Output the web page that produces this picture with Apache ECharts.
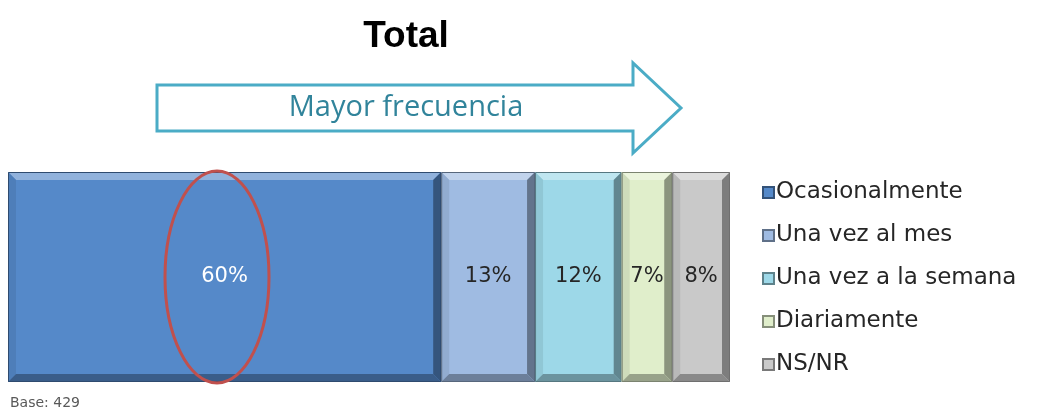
<!DOCTYPE html>
<html>
<head>
<meta charset="utf-8">
<script src="https://cdn.jsdelivr.net/npm/echarts@6/dist/echarts.min.js"></script>
<style>
  html, body { margin: 0; padding: 0; background: #ffffff; }
  #chart { width: 1056px; height: 416px; }
</style>
</head>
<body>
<div id="chart"></div>
<script>
// Frequency categories, from lowest to highest frequency
const categories = ['Ocasionalmente', 'Una vez al mes', 'Una vez a la semana', 'Diariamente', 'NS/NR'];
// Share of respondents (%)
const values = [60, 13, 12, 7, 8];
const colors = ['#5589c9', '#9fbbe2', '#9dd8e8', '#e0eecb', '#c9c9c9'];
const labelColors = ['#ffffff', '#262626', '#262626', '#262626', '#262626'];
const rowLabels = ['Total'];

function shade(hex, f) {
  const n = parseInt(hex.slice(1), 16);
  let r = (n >> 16) & 255, g = (n >> 8) & 255, b = n & 255;
  if (f >= 0) { r += (255 - r) * f; g += (255 - g) * f; b += (255 - b) * f; }
  else { r *= 1 + f; g *= 1 + f; b *= 1 + f; }
  return 'rgb(' + Math.round(r) + ',' + Math.round(g) + ',' + Math.round(b) + ')';
}

// Beveled segment of a 100% stacked bar
function bevelSegment(idx) {
  return function (params, api) {
    const start = api.value(0), len = api.value(1);
    const pA = api.coord([start, 0]);
    const pB = api.coord([start + len, 0]);
    const h = api.size([0, 1])[1];
    const x0 = pA[0], x1 = pB[0];
    const y0 = pA[1] - h / 2, y1 = pA[1] + h / 2;
    const b = 8;
    const base = colors[idx];
    return {
      type: 'group',
      children: [
        { type: 'rect', shape: { x: x0, y: y0, width: x1 - x0, height: y1 - y0 }, style: { fill: base } },
        { type: 'polygon', shape: { points: [[x0, y0], [x1, y0], [x1 - b, y0 + b], [x0 + b, y0 + b]] }, style: { fill: shade(base, 0.35) } },
        { type: 'polygon', shape: { points: [[x0, y0], [x0 + b, y0 + b], [x0 + b, y1 - b], [x0, y1]] }, style: { fill: shade(base, -0.08) } },
        { type: 'polygon', shape: { points: [[x1, y0], [x1 - b, y0 + b], [x1 - b, y1 - b], [x1, y1]] }, style: { fill: shade(base, -0.38) } },
        { type: 'polygon', shape: { points: [[x0, y1], [x1, y1], [x1 - b, y1 - b], [x0 + b, y1 - b]] }, style: { fill: shade(base, -0.32) } },
        { type: 'rect', shape: { x: x0 + 0.5, y: y0 + 0.5, width: x1 - x0 - 1, height: y1 - y0 - 1 }, style: { fill: 'none', stroke: shade(base, -0.45), lineWidth: 1 } },
        {
          type: 'text',
          style: {
            x: (x0 + x1) / 2, y: (y0 + y1) / 2,
            text: values[idx] + '%',
            fill: labelColors[idx],
            font: '21px "DejaVu Sans"',
            align: 'center', verticalAlign: 'middle'
          }
        }
      ]
    };
  };
}

const starts = [];
values.reduce((acc, v) => { starts.push(acc); return acc + v; }, 0);

const series = categories.map((name, i) => ({
  name: name,
  type: 'custom',
  renderItem: bevelSegment(i),
  itemStyle: { color: colors[i], borderColor: shade(colors[i], -0.4), borderWidth: 1 },
  encode: { x: [0, 1], y: 2 },
  data: [[starts[i], values[i], 0]]
}));

const chart = echarts.init(document.getElementById('chart'));
chart.setOption({
  animation: false,
  backgroundColor: '#ffffff',
  title: {
    text: 'Total',
    left: 401, top: 13,
    textAlign: 'center',
    textStyle: { fontFamily: 'Liberation Sans', fontSize: 37, fontWeight: 'bold', color: '#000000' }
  },
  grid: { left: 8, right: 326, top: 172, bottom: 34 },
  xAxis: { type: 'value', min: 0, max: 100, show: false },
  yAxis: { type: 'category', data: rowLabels, show: false },
  legend: {
    orient: 'vertical',
    left: 757, top: 175,
    itemWidth: 11, itemHeight: 11,
    itemGap: 18,
    icon: 'rect',
    textStyle: { fontFamily: 'DejaVu Sans', fontSize: 23, lineHeight: 25, color: '#262626', padding: [0, 0, 0, -3] },
    data: categories
  },
  graphic: [
    {
      type: 'polygon',
      shape: { points: [[157, 85], [633, 85], [633, 63], [681, 108], [633, 153], [633, 131], [157, 131]] },
      style: { fill: '#ffffff', stroke: '#4bacc6', lineWidth: 3 }
    },
    {
      type: 'text',
      style: { x: 406, y: 108, text: 'Mayor frecuencia', fill: '#31849b', font: '29px "Open Sans"', align: 'center', verticalAlign: 'middle' }
    },
    {
      type: 'ellipse',
      z: 100,
      shape: { cx: 217, cy: 277, rx: 52, ry: 106 },
      style: { fill: 'none', stroke: '#c0504d', lineWidth: 3 }
    },
    {
      type: 'text',
      style: { x: 10, y: 403, text: 'Base: 429', fill: '#595959', font: '14px "DejaVu Sans"', verticalAlign: 'middle' }
    }
  ],
  series: series
});
</script>
</body>
</html>
